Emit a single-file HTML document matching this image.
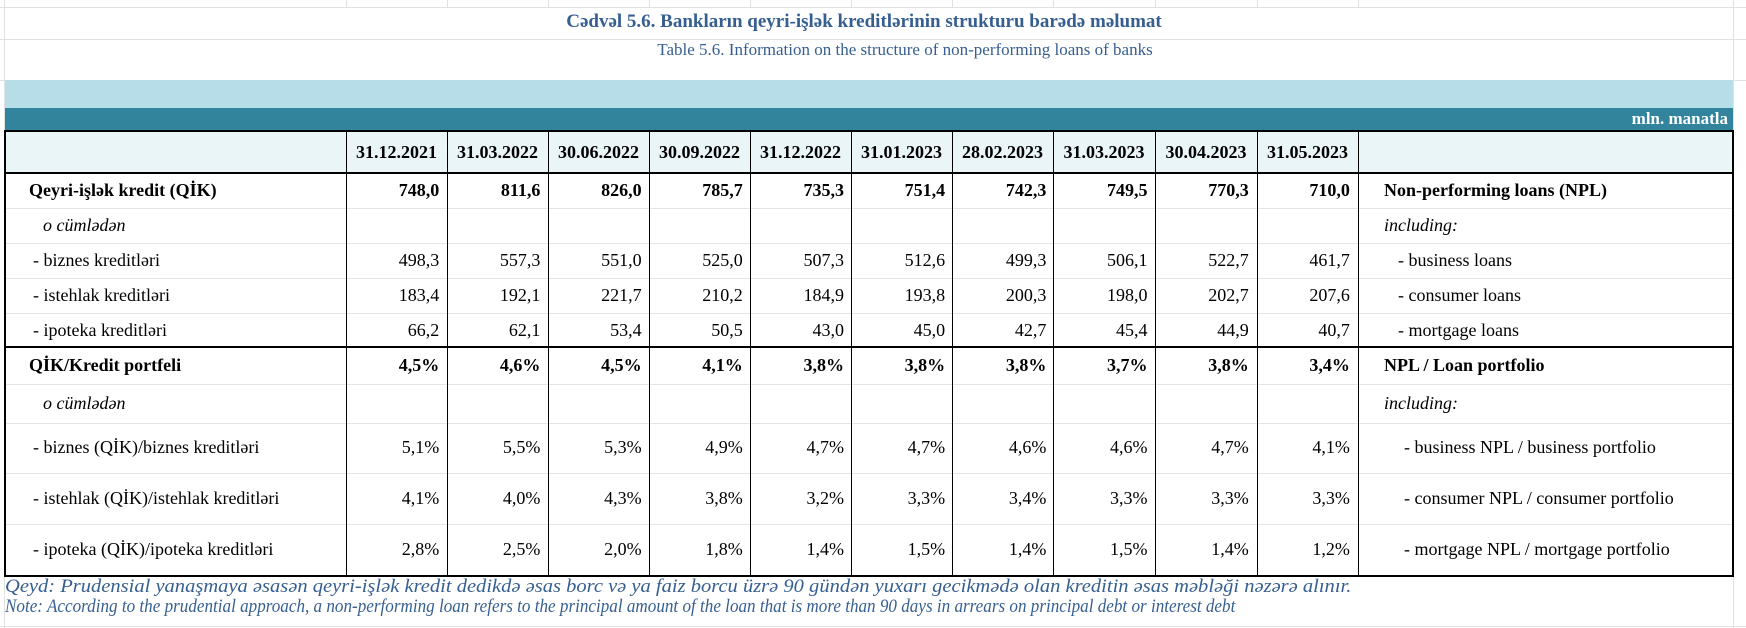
<!DOCTYPE html>
<html><head><meta charset="utf-8"><style>
body{margin:0;width:1746px;height:628px;background:#fff;position:relative;overflow:hidden;font-family:"Liberation Serif",serif;color:#000}
.a{position:absolute}
.h{position:absolute;height:1px;background:#e1e1e1}
.v{position:absolute;width:1px;background:#e1e1e1}
.c{position:absolute;font-size:18px;white-space:nowrap;line-height:20px}
.b{font-weight:bold}
.i{font-style:italic}
</style></head><body>
<div class="h" style="left:0;top:7px;width:1746px"></div>
<div class="h" style="left:0;top:39px;width:1746px"></div>
<div class="h" style="left:0;top:80px;width:1746px"></div>
<div class="h" style="left:0;top:626px;width:1746px"></div>
<div class="v" style="left:4px;top:0;height:628px"></div>
<div class="v" style="left:1733px;top:0;height:628px"></div>
<div class="v" style="left:346px;top:0;height:7px"></div><div class="v" style="left:447px;top:0;height:7px"></div><div class="v" style="left:548px;top:0;height:7px"></div><div class="v" style="left:649px;top:0;height:7px"></div><div class="v" style="left:750px;top:0;height:7px"></div><div class="v" style="left:851px;top:0;height:7px"></div><div class="v" style="left:952px;top:0;height:7px"></div><div class="v" style="left:1053px;top:0;height:7px"></div><div class="v" style="left:1155px;top:0;height:7px"></div><div class="v" style="left:1257px;top:0;height:7px"></div><div class="v" style="left:1358px;top:0;height:7px"></div>

<div class="c b" style="left:0;width:1728px;text-align:center;top:12px;font-size:19px;color:#365f91">Cədvəl 5.6. Bankların qeyri-işlək kreditlərinin strukturu barədə məlumat</div>
<div class="c" style="left:0;width:1810px;text-align:center;top:40px;font-size:17px;color:#365f91">Table 5.6. Information on the structure of non-performing loans of banks</div>

<div class="a" style="left:5px;top:80px;width:1728px;height:28px;background:#b7dde8"></div>
<div class="a" style="left:5px;top:108px;width:1728px;height:22px;background:#31849b"></div>
<div class="c b" style="left:400px;width:1328px;text-align:right;top:109px;font-size:17px;color:#fff">mln. manatla</div>

<div class="a" style="left:5px;top:131px;width:1728px;height:42px;background:#eaf5f8"></div>

<div class="a" style="left:4px;top:130px;width:1730px;height:2px;background:#000"></div>
<div class="a" style="left:4px;top:172px;width:1730px;height:2px;background:#000"></div>
<div class="a" style="left:4px;top:346px;width:1730px;height:2px;background:#000"></div>
<div class="a" style="left:4px;top:575px;width:1730px;height:2px;background:#000"></div>
<div class="a" style="left:4px;top:130px;width:2px;height:447px;background:#000"></div>
<div class="a" style="left:1732px;top:130px;width:2px;height:447px;background:#000"></div>
<div class="h" style="left:6px;top:208px;width:1726px;background:#e4e4e4"></div>
<div class="h" style="left:6px;top:243px;width:1726px;background:#e4e4e4"></div>
<div class="h" style="left:6px;top:278px;width:1726px;background:#e4e4e4"></div>
<div class="h" style="left:6px;top:313px;width:1726px;background:#e4e4e4"></div>
<div class="h" style="left:6px;top:384px;width:1726px;background:#e4e4e4"></div>
<div class="h" style="left:6px;top:423px;width:1726px;background:#e4e4e4"></div>
<div class="h" style="left:6px;top:473px;width:1726px;background:#e4e4e4"></div>
<div class="h" style="left:6px;top:524px;width:1726px;background:#e4e4e4"></div>
<div style="position:absolute;left:346px;top:130px;width:1px;height:446px;background:#000"></div>
<div style="position:absolute;left:447px;top:130px;width:1px;height:446px;background:#000"></div>
<div style="position:absolute;left:548px;top:130px;width:1px;height:446px;background:#000"></div>
<div style="position:absolute;left:649px;top:130px;width:1px;height:446px;background:#000"></div>
<div style="position:absolute;left:750px;top:130px;width:1px;height:446px;background:#000"></div>
<div style="position:absolute;left:851px;top:130px;width:1px;height:446px;background:#000"></div>
<div style="position:absolute;left:952px;top:130px;width:1px;height:446px;background:#000"></div>
<div style="position:absolute;left:1053px;top:130px;width:1px;height:446px;background:#000"></div>
<div style="position:absolute;left:1155px;top:130px;width:1px;height:446px;background:#000"></div>
<div style="position:absolute;left:1257px;top:130px;width:1px;height:446px;background:#000"></div>
<div style="position:absolute;left:1358px;top:130px;width:1px;height:446px;background:#000"></div>

<div class="c b" style="top:142px;left:346px;width:101px;text-align:center">31.12.2021</div>
<div class="c b" style="top:142px;left:447px;width:101px;text-align:center">31.03.2022</div>
<div class="c b" style="top:142px;left:548px;width:101px;text-align:center">30.06.2022</div>
<div class="c b" style="top:142px;left:649px;width:101px;text-align:center">30.09.2022</div>
<div class="c b" style="top:142px;left:750px;width:101px;text-align:center">31.12.2022</div>
<div class="c b" style="top:142px;left:851px;width:101px;text-align:center">31.01.2023</div>
<div class="c b" style="top:142px;left:952px;width:101px;text-align:center">28.02.2023</div>
<div class="c b" style="top:142px;left:1053px;width:102px;text-align:center">31.03.2023</div>
<div class="c b" style="top:142px;left:1155px;width:102px;text-align:center">30.04.2023</div>
<div class="c b" style="top:142px;left:1257px;width:101px;text-align:center">31.05.2023</div>

<div class="c b" style="top:180px;left:29px">Qeyri-işlək kredit (QİK)</div>
<div class="c i" style="top:215px;left:43px">o cümlədən</div>
<div class="c" style="top:250px;left:33px">- biznes kreditləri</div>
<div class="c" style="top:285px;left:33px">- istehlak kreditləri</div>
<div class="c" style="top:320px;left:33px">- ipoteka kreditləri</div>
<div class="c b" style="top:355px;left:29px">QİK/Kredit portfeli</div>
<div class="c i" style="top:393px;left:43px">o cümlədən</div>
<div class="c" style="top:437px;left:33px">- biznes (QİK)/biznes kreditləri</div>
<div class="c" style="top:488px;left:33px">- istehlak (QİK)/istehlak kreditləri</div>
<div class="c" style="top:539px;left:33px">- ipoteka (QİK)/ipoteka kreditləri</div>

<div class="c b" style="top:180px;left:1384px">Non-performing loans (NPL)</div>
<div class="c i" style="top:215px;left:1384px">including:</div>
<div class="c" style="top:250px;left:1398px">- business loans</div>
<div class="c" style="top:285px;left:1398px">- consumer loans</div>
<div class="c" style="top:320px;left:1398px">- mortgage loans</div>
<div class="c b" style="top:355px;left:1384px">NPL / Loan portfolio</div>
<div class="c i" style="top:393px;left:1384px">including:</div>
<div class="c" style="top:437px;left:1404px">- business NPL / business portfolio</div>
<div class="c" style="top:488px;left:1404px">- consumer NPL / consumer portfolio</div>
<div class="c" style="top:539px;left:1404px">- mortgage NPL / mortgage portfolio</div>

<div style="position:absolute;left:346px;top:0;width:1012px">
<style>.g{display:flex;position:absolute;left:0;width:1012px}.g span{width:101.2px;text-align:right;padding-right:8px;box-sizing:border-box;font-size:18px;line-height:20px;white-space:nowrap}</style>
<div class="g b" style="top:180px"><span>748,0</span><span>811,6</span><span>826,0</span><span>785,7</span><span>735,3</span><span>751,4</span><span>742,3</span><span>749,5</span><span>770,3</span><span>710,0</span></div>
<div class="g" style="top:250px"><span>498,3</span><span>557,3</span><span>551,0</span><span>525,0</span><span>507,3</span><span>512,6</span><span>499,3</span><span>506,1</span><span>522,7</span><span>461,7</span></div>
<div class="g" style="top:285px"><span>183,4</span><span>192,1</span><span>221,7</span><span>210,2</span><span>184,9</span><span>193,8</span><span>200,3</span><span>198,0</span><span>202,7</span><span>207,6</span></div>
<div class="g" style="top:320px"><span>66,2</span><span>62,1</span><span>53,4</span><span>50,5</span><span>43,0</span><span>45,0</span><span>42,7</span><span>45,4</span><span>44,9</span><span>40,7</span></div>
<div class="g b" style="top:355px"><span>4,5%</span><span>4,6%</span><span>4,5%</span><span>4,1%</span><span>3,8%</span><span>3,8%</span><span>3,8%</span><span>3,7%</span><span>3,8%</span><span>3,4%</span></div>
<div class="g" style="top:437px"><span>5,1%</span><span>5,5%</span><span>5,3%</span><span>4,9%</span><span>4,7%</span><span>4,7%</span><span>4,6%</span><span>4,6%</span><span>4,7%</span><span>4,1%</span></div>
<div class="g" style="top:488px"><span>4,1%</span><span>4,0%</span><span>4,3%</span><span>3,8%</span><span>3,2%</span><span>3,3%</span><span>3,4%</span><span>3,3%</span><span>3,3%</span><span>3,3%</span></div>
<div class="g" style="top:539px"><span>2,8%</span><span>2,5%</span><span>2,0%</span><span>1,8%</span><span>1,4%</span><span>1,5%</span><span>1,4%</span><span>1,5%</span><span>1,4%</span><span>1,2%</span></div>
</div>

<div class="c i" style="top:577px;left:5px;font-size:19px;color:#365f91;transform:scaleX(1.08);transform-origin:0 0">Qeyd: Prudensial yanaşmaya əsasən qeyri-işlək kredit dedikdə əsas borc və ya faiz borcu üzrə 90 gündən yuxarı gecikmədə olan kreditin əsas məbləği nəzərə alınır.</div>
<div class="c i" style="top:597px;left:5px;font-size:19px;color:#365f91;transform:scaleX(0.9);transform-origin:0 0">Note: According to the prudential approach, a non-performing loan refers to the principal amount of the loan that is more than 90 days in arrears on principal debt or interest debt</div>
</body></html>
